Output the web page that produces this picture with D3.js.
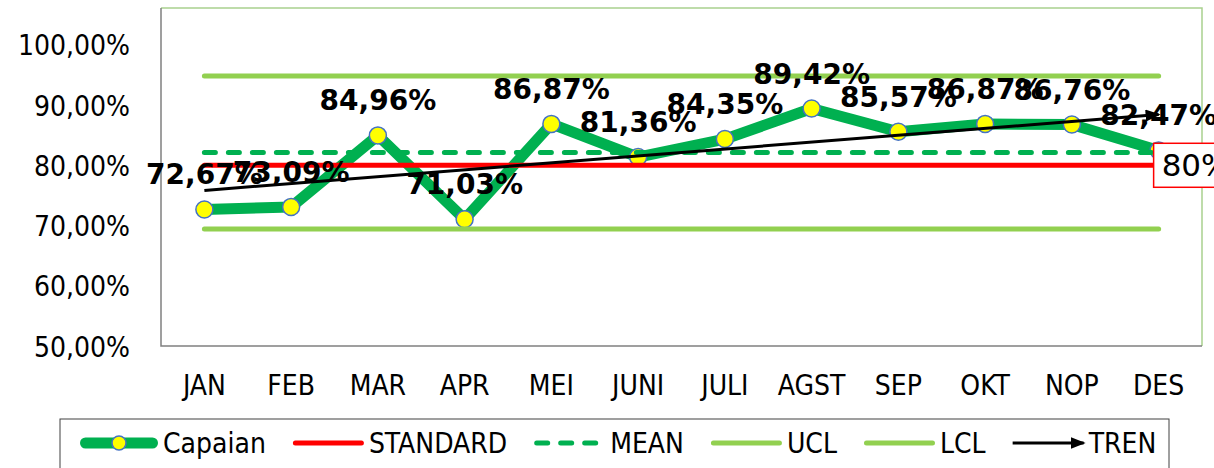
<!DOCTYPE html>
<html>
<head>
<meta charset="utf-8">
<script src="https://cdn.jsdelivr.net/npm/d3@7"></script>
<style>
  body { margin: 0; background: #fff; }
  text { font-family: "DejaVu Sans Condensed", "Liberation Sans", sans-serif; fill: #000; }
  .lbl { font-family: "DejaVu Sans", sans-serif; font-weight: bold; font-size: 28px; }
</style>
</head>
<body>
<script>
// data
const months = ["JAN", "FEB", "MAR", "APR", "MEI", "JUNI", "JULI", "AGST", "SEP", "OKT", "NOP", "DES"];
const capaian = [72.67, 73.09, 84.96, 71.03, 86.87, 81.36, 84.35, 89.42, 85.57, 86.87, 86.76, 82.47];
const standard = [80, 80, 80, 80, 80, 80, 80, 80, 80, 80, 80, 80];
const mean = [82.12, 82.12, 82.12, 82.12, 82.12, 82.12, 82.12, 82.12, 82.12, 82.12, 82.12, 82.12];
const ucl = [94.82, 94.82, 94.82, 94.82, 94.82, 94.82, 94.82, 94.82, 94.82, 94.82, 94.82, 94.82];
const lcl = [69.42, 69.42, 69.42, 69.42, 69.42, 69.42, 69.42, 69.42, 69.42, 69.42, 69.42, 69.42];
const trenMonths = ["JAN", "DES"];
const tren = [75.82, 88.42];
const yTicks = [50, 60, 70, 80, 90, 100];

//Margin Convention
const W = 1214, H = 468;
const plot = {left: 161, right: 1202, top: 8, bottom: 346};

const svg = d3.select("body").append("svg")
  .attr("width", W)
  .attr("height", H);

//Scales
const x = d3.scaleBand().domain(months).range([plot.left, plot.right]).padding(0);
const cx = m => x(m) + x.bandwidth() / 2;
const y = d3.scaleLinear().domain([50, 100]).range([plot.bottom, 44.8]);

const loc = d3.formatLocale({decimal: ",", thousands: ".", grouping: [3], currency: ["", ""]});
const pct = v => loc.format(".2f")(v) + "%";

// arrow head
svg.append("defs").append("marker")
  .attr("id", "arrow")
  .attr("markerUnits", "userSpaceOnUse")
  .attr("viewBox", "0 -6 15 12")
  .attr("refX", 13).attr("refY", 0)
  .attr("markerWidth", 15).attr("markerHeight", 12)
  .attr("orient", "auto")
  .append("path")
  .attr("d", "M0,-6L15,0L0,6Z")
  .attr("fill", "#000");

// plot frame
svg.append("path")
  .attr("d", `M${plot.left},${plot.top}H${plot.right}V${plot.bottom}`)
  .attr("fill", "none")
  .attr("stroke", "#A9D18E")
  .attr("stroke-width", 1.5);
svg.append("path")
  .attr("d", `M${plot.left},${plot.top}V${plot.bottom}H${plot.right}`)
  .attr("fill", "none")
  .attr("stroke", "#808080")
  .attr("stroke-width", 1.5);

// axes
const yAxis = svg.append("g")
  .attr("transform", `translate(${plot.left},0)`)
  .call(d3.axisLeft(y).tickValues(yTicks).tickFormat(pct).tickSize(0).tickPadding(31));
yAxis.select(".domain").remove();
yAxis.selectAll("text")
  .attr("font-size", 28)
  .attr("font-family", null)
  .attr("dy", "0.36em");

const xAxis = svg.append("g")
  .attr("transform", `translate(0,${plot.bottom})`)
  .call(d3.axisBottom(x).tickSize(0).tickPadding(29));
xAxis.select(".domain").remove();
xAxis.selectAll("text")
  .attr("font-size", 28)
  .attr("font-family", null)
  .attr("dy", "0.71em");
svg.selectAll(".tick text").attr("fill", "#000");

const line = d3.line()
  .x((d, i) => cx(months[i]))
  .y(d => y(d));

// Capaian
svg.append("path")
  .datum(capaian)
  .attr("d", line)
  .attr("fill", "none")
  .attr("stroke", "#00B050")
  .attr("stroke-width", 11)
  .attr("stroke-linejoin", "round");

svg.selectAll(".dot")
  .data(capaian)
  .enter().append("circle")
  .attr("class", "dot")
  .attr("cx", (d, i) => cx(months[i]))
  .attr("cy", d => y(d))
  .attr("r", 8.5)
  .attr("fill", "#FFFF00")
  .attr("stroke", "#4472C4")
  .attr("stroke-width", 1.5);

// reference lines
svg.append("path").datum(standard).attr("d", line)
  .attr("fill", "none").attr("stroke", "#FF0000").attr("stroke-width", 5).attr("stroke-linecap", "round");
svg.append("path").datum(mean).attr("d", line)
  .attr("fill", "none").attr("stroke", "#00B050").attr("stroke-width", 5)
  .attr("stroke-linecap", "round").attr("stroke-dasharray", "11,13");
svg.append("path").datum(ucl).attr("d", line)
  .attr("fill", "none").attr("stroke", "#92D050").attr("stroke-width", 5).attr("stroke-linecap", "round");
svg.append("path").datum(lcl).attr("d", line)
  .attr("fill", "none").attr("stroke", "#92D050").attr("stroke-width", 5).attr("stroke-linecap", "round");

// trend
svg.append("path")
  .datum(tren)
  .attr("d", d3.line().x((d, i) => cx(trenMonths[i])).y(d => y(d)))
  .attr("fill", "none")
  .attr("stroke", "#000")
  .attr("stroke-width", 3)
  .attr("marker-end", "url(#arrow)");

// data labels
svg.selectAll(".lbl")
  .data(capaian)
  .enter().append("text")
  .attr("class", "lbl")
  .attr("x", (d, i) => cx(months[i]))
  .attr("y", d => y(d) - 25)
  .attr("text-anchor", "middle")
  .text(d => pct(d));

// standard label at last month
const last = months.length - 1;
const sx = cx(months[last]) - 5, sy = y(standard[last]);
svg.append("rect")
  .attr("x", sx).attr("y", sy - 22)
  .attr("width", 90).attr("height", 44)
  .attr("fill", "#fff")
  .attr("stroke", "#FF0000")
  .attr("stroke-width", 1.5);
svg.append("text")
  .attr("x", sx + 8).attr("y", sy + 11)
  .attr("font-size", 31)
  .style("font-family", "'DejaVu Sans', sans-serif")
  .text(loc.format(".0f")(standard[last]) + "%");

// legend
const legend = svg.append("g");
legend.append("rect")
  .attr("x", 60).attr("y", 419)
  .attr("width", 1109).attr("height", 80)
  .attr("fill", "#fff")
  .attr("stroke", "#404040")
  .attr("stroke-width", 1);

const items = [
  {name: "Capaian", color: "#00B050", w: 11, dot: true},
  {name: "STANDARD", color: "#FF0000", w: 5},
  {name: "MEAN", color: "#00B050", w: 5, dash: "11,13"},
  {name: "UCL", color: "#92D050", w: 5},
  {name: "LCL", color: "#92D050", w: 5},
  {name: "TREN", color: "#000", w: 3, arrow: true}
];
let lx = 80;
const ly = 443;
items.forEach(function(it) {
  const g = legend.append("g");
  const cap = it.arrow ? 0 : it.w / 2;
  const len = it.dot ? 78 : 71;
  g.append("line")
    .attr("x1", lx + cap).attr("x2", lx + len - cap)
    .attr("y1", ly).attr("y2", ly)
    .attr("stroke", it.color)
    .attr("stroke-width", it.w)
    .attr("stroke-linecap", it.arrow ? "butt" : "round")
    .attr("stroke-dasharray", it.dash || null)
    .attr("marker-end", it.arrow ? "url(#arrow)" : null);
  if (it.dot) {
    g.append("circle")
      .attr("cx", lx + 39).attr("cy", ly).attr("r", 7)
      .attr("fill", "#FFFF00").attr("stroke", "#4472C4").attr("stroke-width", 1.5);
  }
  const t = g.append("text")
    .attr("x", lx + len + 5).attr("y", ly + 10)
    .attr("font-size", 28)
    .text(it.name);
  lx = lx + len + 5 + t.node().getComputedTextLength() + 27;
});
</script>
</body>
</html>
